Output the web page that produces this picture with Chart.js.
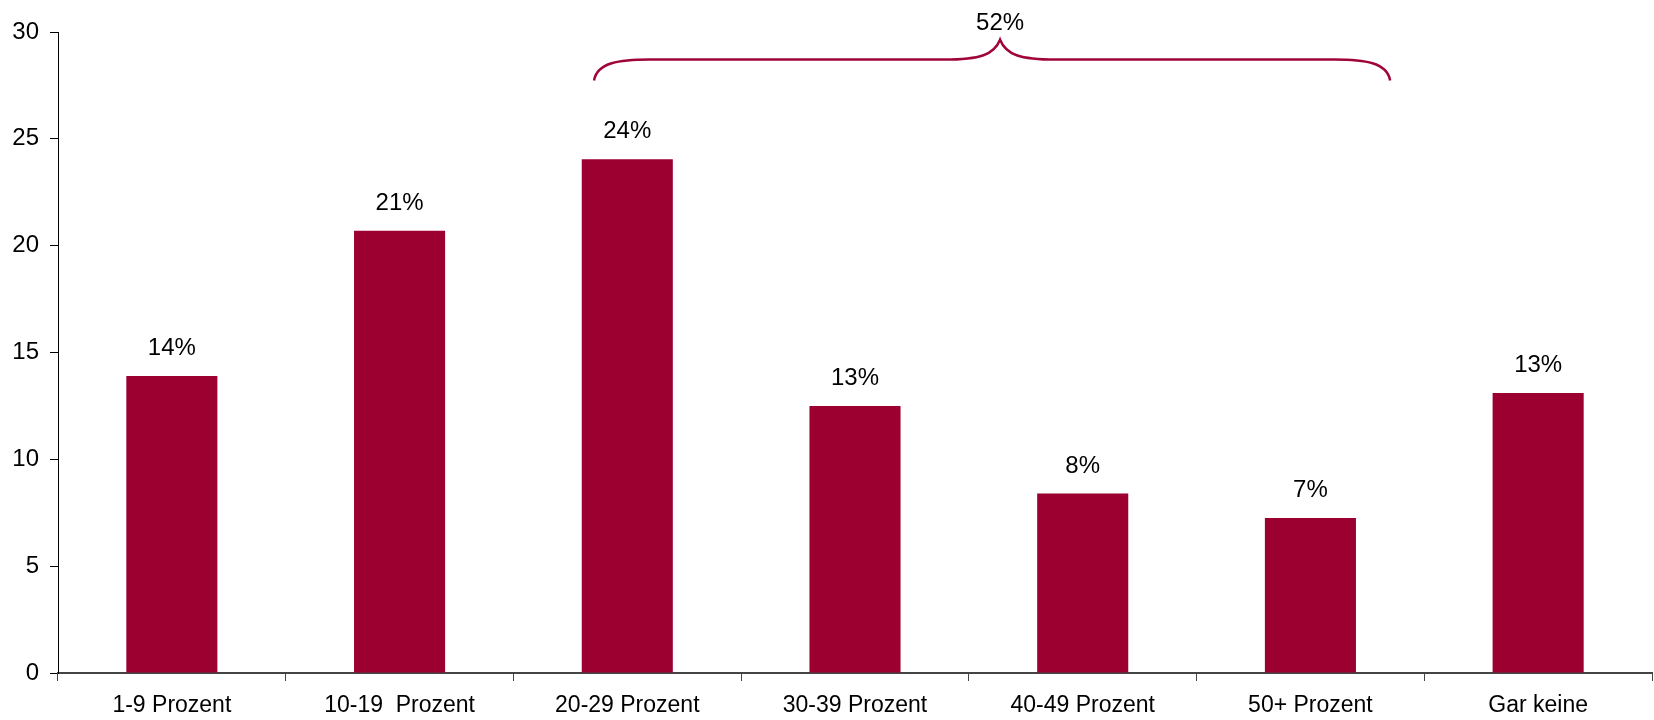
<!doctype html>
<html>

<head>
    <title>Prozent</title>
    <script src="https://cdn.jsdelivr.net/npm/chart.js@4/dist/chart.umd.min.js"></script>
    <style>
        html, body { margin: 0; padding: 0; background: #fff; }
        #holder { width: 1654px; height: 720px; }
    </style>
</head>

<body>
    <div id="holder">
        <canvas id="chart-area" width="1654" height="720"></canvas>
    </div>
    <script>
    var categories = ['1-9 Prozent', '10-19  Prozent', '20-29 Prozent', '30-39 Prozent', '40-49 Prozent', '50+ Prozent', 'Gar keine'];
    var values = [13.9, 20.7, 24.05, 12.5, 8.4, 7.25, 13.1];
    var valueLabels = ['14%', '21%', '24%', '13%', '8%', '7%', '13%'];
    var yTicks = [0, 5, 10, 15, 20, 25, 30];

    // Klammer ueber 20-29 bis 50+ (Index- und Wertkoordinaten)
    var braceLabel = '52%';
    var braceX = [1.854, 3.637, 5.35];     // links, Spitze, rechts
    var braceY = [27.73, 28.71, 29.64];    // Enden, Linie, Spitze

    var barColor = '#9c0031';
    var fontFamily = "'Liberation Sans', Arial, sans-serif";

    var labelPlugin = {
        id: 'labels',
        afterDatasetsDraw: function(chart) {
            var ctx = chart.ctx;
            var meta = chart.getDatasetMeta(0);
            ctx.save();
            ctx.fillStyle = '#000';
            ctx.font = '24px ' + fontFamily;
            ctx.textAlign = 'center';
            ctx.textBaseline = 'alphabetic';
            meta.data.forEach(function(bar, i) {
                ctx.fillText(valueLabels[i], bar.x, bar.y - 21);
            });

            // Klammer
            var xs = chart.scales.x, ys = chart.scales.y;
            var x1 = xs.getPixelForValue(braceX[0]);
            var xc = xs.getPixelForValue(braceX[1]);
            var x2 = xs.getPixelForValue(braceX[2]);
            var yEnd = ys.getPixelForValue(braceY[0]);
            var yLine = ys.getPixelForValue(braceY[1]);
            var yTop = ys.getPixelForValue(braceY[2]);
            var r = 56;
            ctx.strokeStyle = '#a0053a';
            ctx.lineWidth = 2.5;
            ctx.beginPath();
            ctx.moveTo(x1, yEnd);
            ctx.bezierCurveTo(x1 + 3, yLine + 3, x1 + r * 0.45, yLine, x1 + r, yLine);
            ctx.lineTo(xc - r, yLine);
            ctx.bezierCurveTo(xc - r * 0.35, yLine, xc - 6, yLine - 5, xc, yTop);
            ctx.bezierCurveTo(xc + 6, yLine - 5, xc + r * 0.35, yLine, xc + r, yLine);
            ctx.lineTo(x2 - r, yLine);
            ctx.bezierCurveTo(x2 - r * 0.45, yLine, x2 - 3, yLine + 3, x2, yEnd);
            ctx.stroke();

            ctx.fillText(braceLabel, xc, yTop - 10);
            ctx.restore();
        }
    };

    var config = {
        type: 'bar',
        data: {
            labels: categories,
            datasets: [{
                data: values,
                backgroundColor: barColor,
                borderWidth: 0,
                categoryPercentage: 1.0,
                barPercentage: 0.4
            }]
        },
        options: {
            responsive: false,
            animation: false,
            layout: { padding: { top: 32, right: 2, bottom: 0, left: 0 } },
            plugins: {
                legend: { display: false },
                tooltip: { enabled: false }
            },
            scales: {
                x: {
                    grid: { display: true, drawOnChartArea: false, drawTicks: true, tickLength: 8, color: '#444', offset: true },
                    border: { display: true, color: '#444', width: 2 },
                    ticks: { color: '#000', font: { family: fontFamily, size: 23 }, padding: 11, maxRotation: 0, autoSkip: false },
                    afterFit: function(scale) { scale.height = 47; }
                },
                y: {
                    min: 0,
                    max: 30,
                    afterBuildTicks: function(scale) {
                        scale.ticks = yTicks.map(function(v) { return { value: v }; });
                    },
                    grid: { display: true, drawOnChartArea: false, drawTicks: true, tickLength: 8, color: '#000' },
                    border: { display: true, color: '#000', width: 1 },
                    ticks: { color: '#000', font: { family: fontFamily, size: 24 }, padding: 11 },
                    afterFit: function(scale) { scale.width = 58; }
                }
            }
        },
        plugins: [labelPlugin]
    };

    window.onload = function() {
        var ctx = document.getElementById('chart-area').getContext('2d');
        window.myBar = new Chart(ctx, config);
    };
    </script>
</body>

</html>
